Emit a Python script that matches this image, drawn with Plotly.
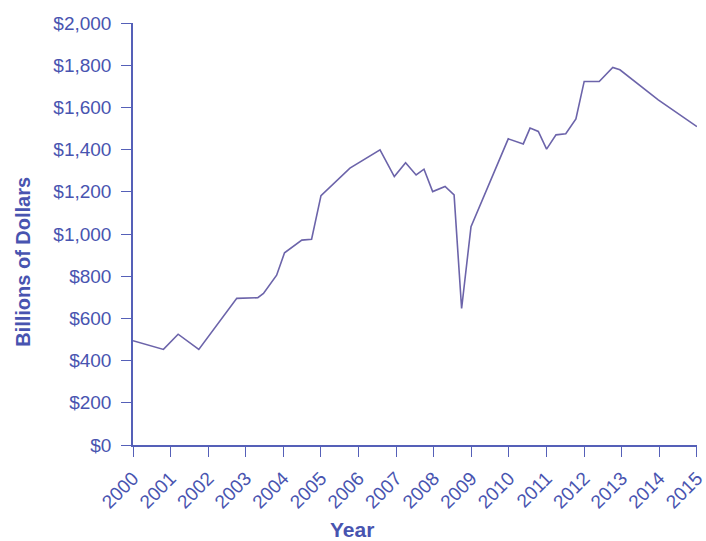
import plotly.graph_objects as go

years = [2000.0, 2000.81, 2001.2, 2001.75, 2002.76, 2003.32, 2003.47, 2003.82, 2004.03,
         2004.49, 2004.75, 2005.0, 2005.77, 2006.57, 2006.95, 2007.25, 2007.53, 2007.74,
         2007.97, 2008.30, 2008.54, 2008.74, 2008.99, 2009.14, 2009.98, 2010.38, 2010.56,
         2010.78, 2011.0, 2011.25, 2011.51, 2011.78, 2012.0, 2012.4, 2012.76, 2012.95,
         2013.97, 2015.0]
values = [494, 453, 525, 453, 695, 698, 718, 805, 911,
          971, 975, 1182, 1312, 1399, 1272, 1338, 1280, 1307,
          1201, 1225, 1185, 647, 1035, 1098, 1451, 1427, 1502,
          1486, 1402, 1470, 1475, 1545, 1723, 1723, 1789, 1778,
          1636, 1509]

year_ticks = list(range(2000, 2016))
year_labels = [str(y) for y in year_ticks]
dollar_ticks = list(range(0, 2001, 200))
dollar_labels = ["$0", "$200", "$400", "$600", "$800", "$1,000", "$1,200",
                 "$1,400", "$1,600", "$1,800", "$2,000"]

TXT = "#4854b0"
AX = "#5560b8"
LINE = "#6c64aa"

fig = go.Figure()
fig.add_trace(go.Scatter(x=years, y=values, mode="lines",
                         line=dict(color=LINE, width=1.6), showlegend=False))

fig.update_layout(
    width=706, height=541,
    margin=dict(l=133, r=9, t=23, b=96),
    paper_bgcolor="white", plot_bgcolor="white",
    font=dict(family="Liberation Sans, Arial, sans-serif", color=TXT, size=19),
    xaxis=dict(range=[2000, 2015.0005], tickmode="array", tickvals=year_ticks,
               ticktext=year_labels, tickangle=-45, showgrid=False, zeroline=False,
               showline=True, linecolor=AX, linewidth=1.5, ticks="outside",
               ticklen=10, tickcolor=AX, tickwidth=1.2, automargin=False,
               ticklabeloverflow="allow", ticklabelstandoff=3,
               tickfont=dict(size=19, color=TXT)),
    yaxis=dict(range=[0, 2000], tickmode="array", tickvals=dollar_ticks,
               ticktext=dollar_labels, showgrid=False, zeroline=False,
               showline=True, linecolor=AX, linewidth=1.5, ticks="outside",
               ticklen=10, tickcolor=AX, tickwidth=1.2, ticklabelstandoff=6,
               automargin=False, ticklabeloverflow="allow",
               tickfont=dict(size=19, color=TXT)),
    annotations=[
        dict(text="<b>Year</b>", xref="paper", yref="paper", x=0.388, y=-0.201,
             xanchor="center", yanchor="middle", showarrow=False,
             font=dict(size=21, color=TXT)),
        dict(text="<b>Billions of Dollars</b>", xref="paper", yref="paper",
             x=-0.195, y=0.434, xanchor="center", yanchor="middle", textangle=-90,
             showarrow=False, font=dict(size=20, color=TXT)),
    ],
)

fig.write_html("out.html", config={"displayModeBar": False},
               post_script="document.body.style.margin='0';document.body.style.padding='0';")
